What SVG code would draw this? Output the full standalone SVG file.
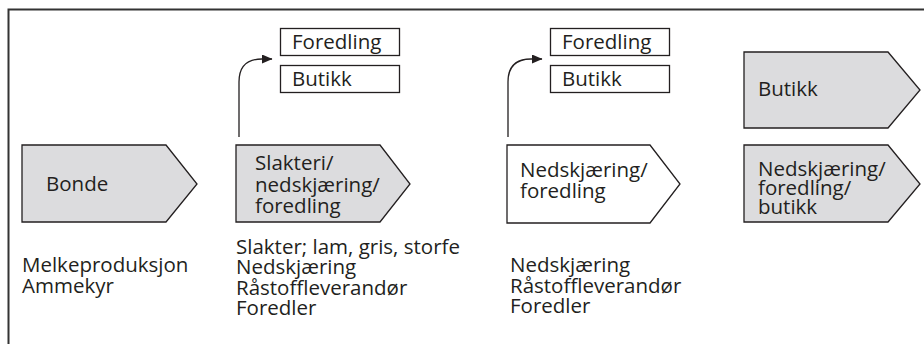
<svg xmlns="http://www.w3.org/2000/svg" width="924" height="344" viewBox="0 0 924 344">
<style>
text{font-family:"Open Sans","Noto Sans","Liberation Sans",sans-serif;font-size:20.5px;fill:#231f20}
.shape{fill:#dcdcde;stroke:#231f20;stroke-width:1.3}
.white{fill:#fff;stroke:#231f20;stroke-width:1.3}
.box{fill:#fff;stroke:#231f20;stroke-width:1.3}
.conn{fill:none;stroke:#231f20;stroke-width:1.3}
</style>
<defs>
<marker id="ah" markerWidth="11" markerHeight="9" refX="10" refY="4.5" orient="auto" markerUnits="userSpaceOnUse">
<path d="M0,0 L10.5,4.5 L0,9 Z" fill="#231f20"/>
</marker>
</defs>
<rect width="924" height="344" fill="#fff"/>
<path d="M8.5,350 L8.5,9.5 L930,9.5" fill="none" stroke="#333" stroke-width="2"/>

<g id="bonde">
<path class="shape" d="M22,145 L166,145 L197,184 L166,222 L22,222 Z"/>
<text x="46" y="191">Bonde</text>
</g>
<g id="slakteri">
<path class="shape" d="M236,145 L380,145 L410,184 L380,222 L236,222 Z"/>
<text x="255" y="170">Slakteri/</text>
<text x="255" y="192">nedskjæring/</text>
<text x="255" y="213">foredling</text>
</g>
<g id="nedskjaering">
<path class="white" d="M507,145 L650,145 L680,184 L650,223 L507,223 Z"/>
<text x="520" y="177">Nedskjæring/</text>
<text x="520" y="198">foredling</text>
</g>
<g id="butikk-big">
<path class="shape" d="M744,52 L888,52 L920,90 L888,128 L744,128 Z"/>
<text x="758" y="96">Butikk</text>
</g>
<g id="nfb">
<path class="shape" d="M744,145 L888,145 L920,184 L888,222 L744,222 Z"/>
<text x="758" y="176">Nedskjæring/</text>
<text x="758" y="195">foredling/</text>
<text x="758" y="214">butikk</text>
</g>
<g id="foredling1">
<rect class="box" x="280.5" y="28.5" width="119" height="27"/>
<text x="292" y="49">Foredling</text>
</g>
<g id="butikk1">
<rect class="box" x="280.5" y="65.5" width="119" height="27"/>
<text x="292" y="86">Butikk</text>
</g>
<g id="foredling2">
<rect class="box" x="550.5" y="28.5" width="119" height="27"/>
<text x="562" y="49">Foredling</text>
</g>
<g id="butikk2">
<rect class="box" x="550.5" y="65.5" width="119" height="27"/>
<text x="562" y="86">Butikk</text>
</g>
<g id="labels">
<text x="22" y="272">Melkeproduksjon</text>
<text x="22" y="293">Ammekyr</text>
<text x="236" y="254">Slakter; lam, gris, storfe</text>
<text x="236" y="274">Nedskjæring</text>
<text x="236" y="295">Råstoffleverandør</text>
<text x="236" y="315">Foredler</text>
<text x="510" y="272">Nedskjæring</text>
<text x="510" y="293">Råstoffleverandør</text>
<text x="510" y="313">Foredler</text>
</g>
<g id="connectors">
<path class="conn" d="M239,137 L239,82 Q239,59 262,59 L272,59" marker-end="url(#ah)"/>
<path class="conn" d="M508,137 L508,82 Q508,59 531,59 L542,59" marker-end="url(#ah)"/>
</g>
</svg>
